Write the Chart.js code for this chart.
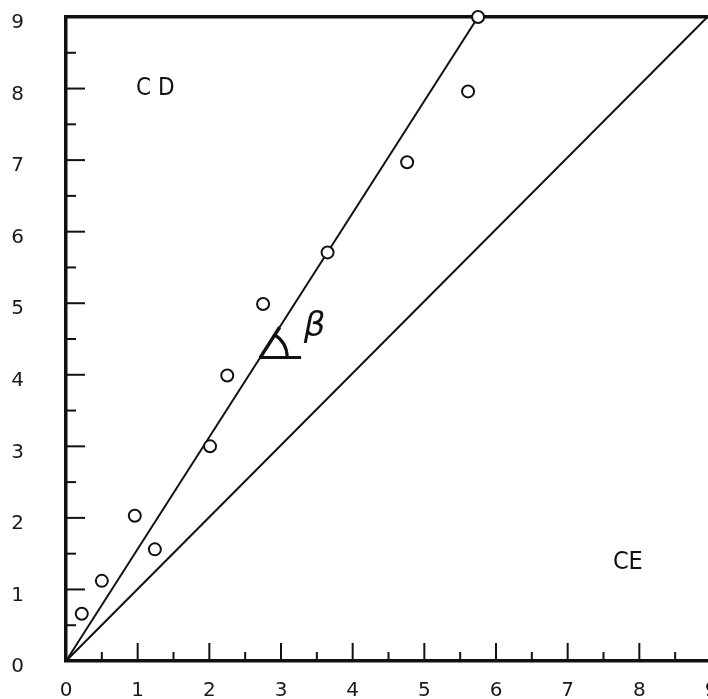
<!DOCTYPE html>
<html>
<head>
<meta charset="utf-8">
<script src="https://cdn.jsdelivr.net/npm/chart.js@4/dist/chart.umd.min.js"></script>
<style>
  html, body { margin: 0; padding: 0; background: #fff; overflow: hidden; }
  #wrap { width: 720px; height: 699px; position: relative; }
</style>
</head>
<body>
<div id="wrap"><canvas id="c"></canvas></div>
<script>
// Measured points (CE on x, CD on y)
const pointX = [0.22, 0.50, 0.96, 1.24, 2.01, 2.25, 2.75, 3.65, 4.76, 5.61, 5.75];
const pointY = [0.66, 1.12, 2.03, 1.56, 3.00, 3.99, 4.99, 5.71, 6.97, 7.96, 9.00];

// Fitted line and reference line through the origin
const fitLineX = [0, 5.75];
const fitLineY = [0, 9.00];
const refLineX = [0, 8.95];
const refLineY = [0, 9.00];

// Axis ticks
const majorTicks = [1, 2, 3, 4, 5, 6, 7, 8];
const minorTicks = [0.5, 1.5, 2.5, 3.5, 4.5, 5.5, 6.5, 7.5, 8.5];

// Region names and the angle marker
const regionNames = ['CD', 'CE'];
const regionX = [1.24, 7.84];
const regionY = [8.00, 1.37];
const angleVertex = [2.71, 4.24];
const angleArmEndX = 3.28;
const angleLabel = 'β';
const angleLabelAt = [3.47, 4.66];

const INK = '#111';
const toXY = (xs, ys) => xs.map((x, i) => ({ x, y: ys[i] }));

const decorations = {
  id: 'decorations',
  beforeDatasetsDraw(chart) {
    const { ctx, scales: { x, y } } = chart;
    const left = x.getPixelForValue(0), bottom = y.getPixelForValue(0);
    ctx.save();
    ctx.strokeStyle = INK;
    ctx.lineWidth = 2;
    ctx.lineCap = 'butt';
    // inward tick marks
    const tick = (v, len, axis) => {
      ctx.beginPath();
      if (axis === 'x') {
        const px = x.getPixelForValue(v);
        ctx.moveTo(px, bottom); ctx.lineTo(px, bottom - len);
      } else {
        const py = y.getPixelForValue(v);
        ctx.moveTo(left, py); ctx.lineTo(left + len, py);
      }
      ctx.stroke();
    };
    majorTicks.forEach(v => { tick(v, 18, 'x'); tick(v, 19, 'y'); });
    minorTicks.forEach(v => { tick(v, 9, 'x'); tick(v, 10, 'y'); });
    ctx.restore();
  },
  afterDatasetsDraw(chart) {
    const { ctx, scales: { x, y } } = chart;
    ctx.save();
    ctx.strokeStyle = INK;
    ctx.fillStyle = INK;
    // angle marker on the fitted line
    const vx = x.getPixelForValue(angleVertex[0]);
    const vy = y.getPixelForValue(angleVertex[1]);
    const ex = x.getPixelForValue(angleArmEndX);
    ctx.lineWidth = 3;
    ctx.beginPath(); ctx.moveTo(vx - 1, vy); ctx.lineTo(ex, vy); ctx.stroke();
    const dx = x.getPixelForValue(fitLineX[1]) - x.getPixelForValue(fitLineX[0]);
    const dy = y.getPixelForValue(fitLineY[1]) - y.getPixelForValue(fitLineY[0]);
    const theta = Math.atan2(dy, dx);
    ctx.lineWidth = 3;
    ctx.beginPath(); ctx.arc(vx, vy, 27, theta, 0); ctx.stroke();
    ctx.lineWidth = 3.5;
    ctx.beginPath();
    ctx.moveTo(vx, vy);
    ctx.lineTo(vx + Math.cos(theta) * 36, vy + Math.sin(theta) * 36);
    ctx.stroke();
    // labels
    ctx.textAlign = 'center';
    ctx.textBaseline = 'middle';
    ctx.font = 'italic 34px "DejaVu Sans"';
    ctx.fillText(angleLabel, x.getPixelForValue(angleLabelAt[0]), y.getPixelForValue(angleLabelAt[1]));
    ctx.font = '24px "DejaVu Sans Condensed", "DejaVu Sans"';
    if ('letterSpacing' in ctx) ctx.letterSpacing = '7px';
    ctx.fillText(regionNames[0], x.getPixelForValue(regionX[0]) + 4, y.getPixelForValue(regionY[0]));
    if ('letterSpacing' in ctx) ctx.letterSpacing = '0px';
    ctx.font = '25px "DejaVu Sans Condensed", "DejaVu Sans"';
    ctx.fillText(regionNames[1], x.getPixelForValue(regionX[1]), y.getPixelForValue(regionY[1]));
    ctx.restore();
  }
};

const tickFont = { family: '"DejaVu Sans"', size: 20 };

new Chart(document.getElementById('c'), {
  type: 'scatter',
  data: {
    datasets: [
      {
        label: 'points',
        data: toXY(pointX, pointY),
        pointStyle: 'circle',
        pointRadius: 6,
        pointBorderWidth: 2,
        pointBorderColor: INK,
        pointBackgroundColor: '#fff',
        showLine: false,
        clip: false,
        order: 0
      },
      {
        label: 'fit',
        type: 'line',
        data: toXY(fitLineX, fitLineY),
        borderColor: INK,
        borderWidth: 2,
        pointRadius: 0,
        order: 1
      },
      {
        label: 'reference',
        type: 'line',
        data: toXY(refLineX, refLineY),
        borderColor: INK,
        borderWidth: 2,
        pointRadius: 0,
        order: 1
      }
    ]
  },
  options: {
    responsive: true,
    maintainAspectRatio: false,
    animation: false,
    layout: { padding: { right: 9, top: 0, left: 0, bottom: 0 } },
    plugins: { legend: { display: false }, tooltip: { enabled: false } },
    scales: {
      x: {
        type: 'linear', position: 'bottom', min: 0, max: 9,
        grid: { display: false, drawTicks: false },
        border: { display: true, color: INK, width: 3.5 },
        ticks: { stepSize: 1, color: '#1a1a1a', font: tickFont, padding: 18, maxRotation: 0, autoSkip: false },
        afterFit: s => { s.height = 38; s.paddingLeft = 0; s.paddingRight = 0; }
      },
      x2: {
        type: 'linear', position: 'top', min: 0, max: 9,
        grid: { display: false, drawTicks: false },
        border: { display: true, color: INK, width: 3.5 },
        ticks: { display: false },
        afterFit: s => { s.height = 17; s.paddingLeft = 0; s.paddingRight = 0; }
      },
      y: {
        type: 'linear', position: 'left', min: 0, max: 9,
        grid: { display: false, drawTicks: false },
        border: { display: true, color: INK, width: 3.5 },
        ticks: { stepSize: 1, color: '#1a1a1a', font: tickFont, padding: 42, labelOffset: 6 },
        afterFit: s => { s.width = 66; s.paddingTop = 0; s.paddingBottom = 0; }
      }
    }
  },
  plugins: [decorations]
});
</script>
</body>
</html>
